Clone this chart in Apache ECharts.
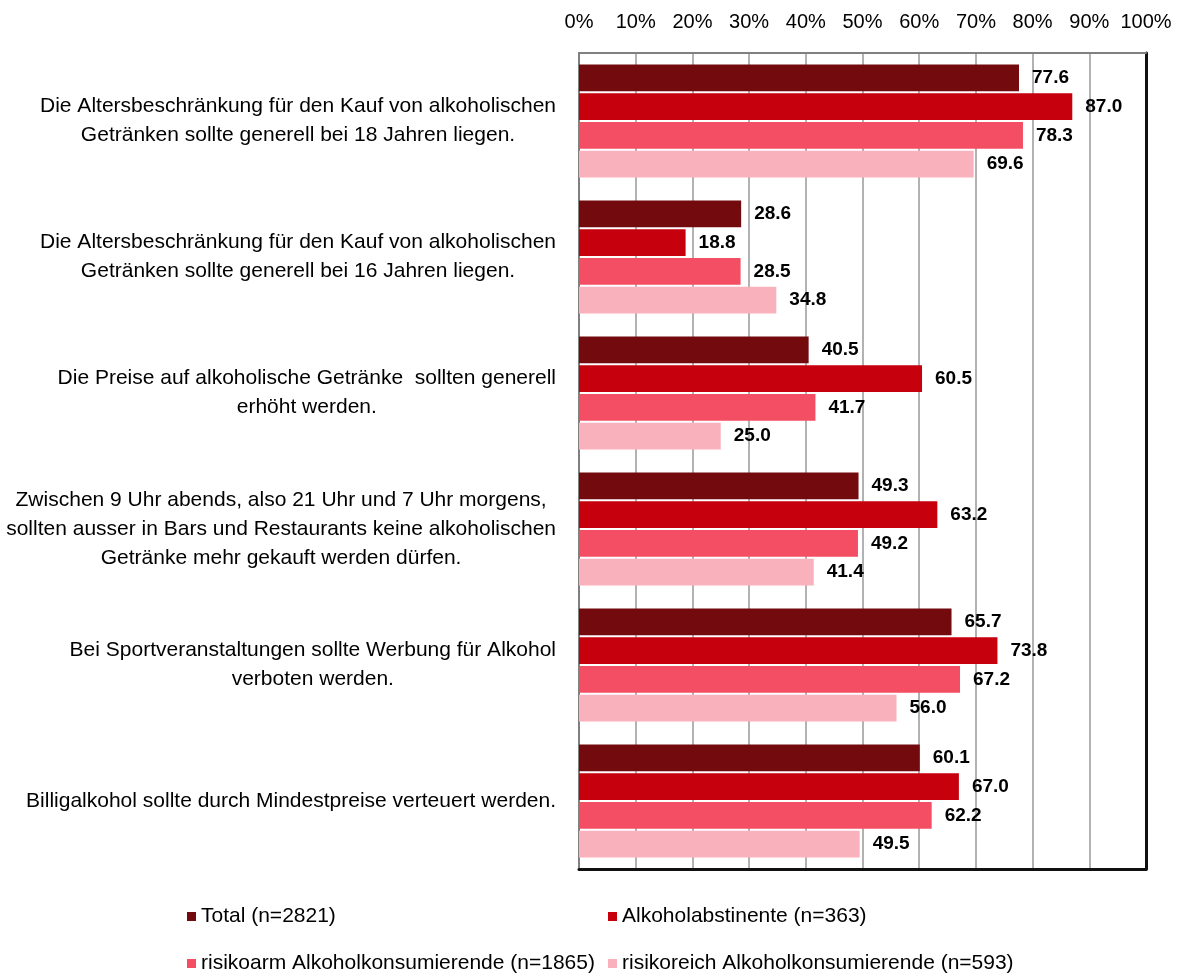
<!DOCTYPE html>
<html>
<head>
<meta charset="utf-8">
<script src="https://cdn.jsdelivr.net/npm/echarts@6/dist/echarts.min.js"></script>
<style>
  html, body { margin: 0; padding: 0; background: #fff; }
  #chart { width: 1179px; height: 976px; }
</style>
</head>
<body>
<div id="chart"></div>
<script>
// Aussagen (von oben nach unten)
const categories = [
  "Die Altersbeschränkung für den Kauf von alkoholischen\nGetränken sollte generell bei 18 Jahren liegen.",
  "Die Altersbeschränkung für den Kauf von alkoholischen\nGetränken sollte generell bei 16 Jahren liegen.",
  "Die Preise auf alkoholische Getränke  sollten generell\nerhöht werden.",
  "Zwischen 9 Uhr abends, also 21 Uhr und 7 Uhr morgens,\nsollten ausser in Bars und Restaurants keine alkoholischen\nGetränke mehr gekauft werden dürfen.",
  "Bei Sportveranstaltungen sollte Werbung für Alkohol\nverboten werden.",
  "Billigalkohol sollte durch Mindestpreise verteuert werden."
];

const seriesNames = [
  "Total (n=2821)",
  "Alkoholabstinente (n=363)",
  "risikoarm Alkoholkonsumierende (n=1865)",
  "risikoreich Alkoholkonsumierende (n=593)"
];

const total = [77.6, 28.6, 40.5, 49.3, 65.7, 60.1];
const abstinent = [87.0, 18.8, 60.5, 63.2, 73.8, 67.0];
const risikoarm = [78.3, 28.5, 41.7, 49.2, 67.2, 62.2];
const risikoreich = [69.6, 34.8, 25.0, 41.4, 56.0, 49.5];

const colors = ["#720a0e", "#c6000d", "#f34e63", "#f9b2bb"];

const font = "'Liberation Sans', Arial, sans-serif";

const chart = echarts.init(document.getElementById("chart"));

function barSeries(name, data, i) {
  return {
    name: name,
    type: "bar",
    data: data,
    barGap: "8%",
    barCategoryGap: "17%",
    itemStyle: { color: colors[i] },
    label: {
      show: true,
      position: "right",
      distance: 13,
      color: "#000",
      fontFamily: font,
      fontWeight: "bold",
      fontSize: 19,
      formatter: function (p) { return p.value.toFixed(1); }
    }
  };
}

function legendBlock(names, left) {
  return {
    data: names,
    orient: "vertical",
    left: left,
    top: 906,
    height: 70,
    padding: 0,
    itemWidth: 9,
    itemHeight: 9,
    itemGap: 26,
    icon: "rect",
    textStyle: { fontFamily: font, fontSize: 21, color: "#000" }
  };
}

const option = {
  animation: false,
  color: colors,
  textStyle: { fontFamily: font },
  grid: { left: 579, right: 33, top: 53, bottom: 107, containLabel: false },
  legend: [
    legendBlock([seriesNames[0], seriesNames[2]], 187),
    legendBlock([seriesNames[1], seriesNames[3]], 608)
  ],
  xAxis: [
    {
      type: "value",
      position: "top",
      min: 0,
      max: 100,
      interval: 10,
      axisLine: { show: true, onZero: false, lineStyle: { color: "#808080", width: 2 } },
      axisTick: { show: false },
      axisLabel: { formatter: "{value}%", fontFamily: font, fontSize: 20, color: "#000", margin: 21 },
      splitLine: { show: true, lineStyle: { color: "#999", width: 1.5 } }
    },
    {
      type: "value",
      position: "bottom",
      min: 0,
      max: 100,
      interval: 10,
      axisLine: { show: true, onZero: false, lineStyle: { color: "#111", width: 3 } },
      axisTick: { show: false },
      axisLabel: { show: false },
      splitLine: { show: false }
    }
  ],
  yAxis: [
    {
      type: "category",
      data: categories,
      inverse: true,
      axisLine: { show: true, onZero: false, lineStyle: { color: "#808080", width: 2 } },
      axisTick: { show: false },
      axisLabel: {
        margin: 23,
        formatter: function (v) {
          return v.split("\n").map(function (l) { return "{c|" + l + "}"; }).join("\n");
        },
        rich: {
          c: { align: "center", fontFamily: font, fontSize: 21, lineHeight: 29, color: "#000" }
        }
      }
    },
    {
      type: "category",
      data: categories,
      inverse: true,
      position: "right",
      axisLine: { show: true, onZero: false, lineStyle: { color: "#111", width: 3 } },
      axisTick: { show: false },
      axisLabel: { show: false }
    }
  ],
  series: [
    barSeries(seriesNames[0], total, 0),
    barSeries(seriesNames[1], abstinent, 1),
    barSeries(seriesNames[2], risikoarm, 2),
    barSeries(seriesNames[3], risikoreich, 3)
  ]
};

chart.setOption(option);
</script>
</body>
</html>
